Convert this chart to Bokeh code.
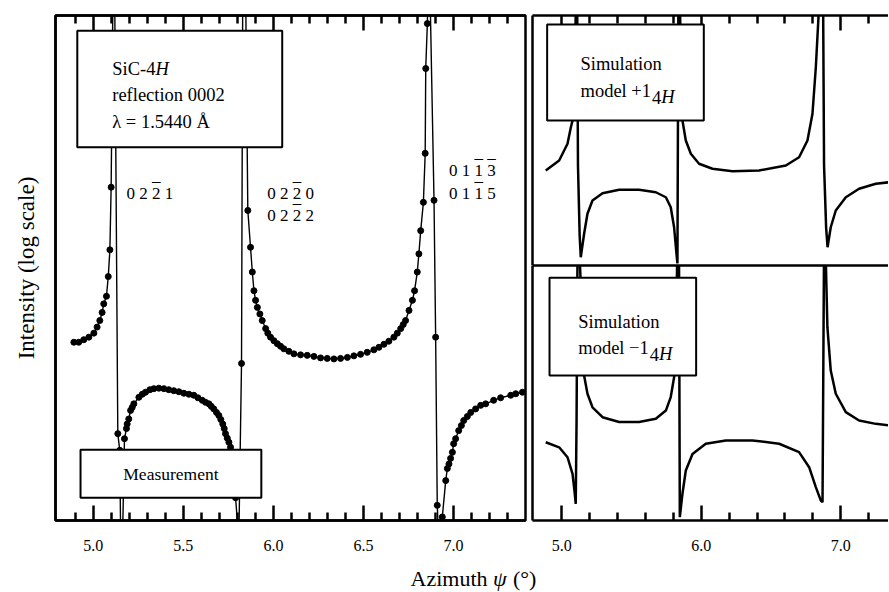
from bokeh.plotting import figure
from bokeh.models import (Range1d, FixedTicker, PrintfTickFormatter, Label,
                          BoxAnnotation, ColumnDataSource, LinearAxis)
from bokeh.layouts import row, column
from bokeh.embed import file_html
from bokeh.resources import INLINE

FONT = "Liberation Serif"

# ---------------- data (azimuth in degrees, intensity on an arbitrary log axis 0..100) ----------
meas_angle = [4.892, 4.919, 4.947, 4.975, 5.003, 5.021, 5.036, 5.049, 5.058, 5.073, 5.083, 5.092,
              5.099, 5.110, 5.118, 5.136, 5.147, 5.152, 5.162,
              5.173, 5.184, 5.188, 5.197, 5.207, 5.216, 5.225, 5.253, 5.272, 5.290, 5.314, 5.336,
              5.364, 5.392, 5.419, 5.447, 5.475, 5.503, 5.531, 5.558, 5.581, 5.605, 5.623, 5.642,
              5.655, 5.669, 5.684, 5.697, 5.708, 5.719, 5.727, 5.734, 5.744, 5.753, 5.762, 5.790,
              5.808, 5.823, 5.830, 5.845,
              5.858, 5.873, 5.883, 5.892, 5.901, 5.911, 5.925, 5.938, 5.957, 5.969, 5.984, 6.003,
              6.022, 6.040, 6.058, 6.086, 6.114, 6.151, 6.188, 6.225, 6.262, 6.299, 6.336, 6.373,
              6.411, 6.447, 6.484, 6.521, 6.558, 6.586, 6.614, 6.641, 6.669, 6.688, 6.707, 6.721,
              6.734, 6.753, 6.772, 6.784, 6.799, 6.808, 6.818, 6.833, 6.843, 6.846, 6.855, 6.860,
              6.868, 6.892, 6.901, 6.910, 6.918,
              6.938, 6.957, 6.966, 6.975, 6.984, 6.994, 7.001, 7.012, 7.029, 7.044, 7.057, 7.077,
              7.096, 7.123, 7.151, 7.179, 7.223, 7.262, 7.318, 7.346, 7.383]
meas_logI = [35.3, 35.3, 35.8, 36.3, 37.1, 38.3, 39.6, 41.2, 42.9, 44.4, 48.3, 53.6,
             66.0, 108, 108, 17.2, 13.9, -4, -4,
             16.2, 18.2, 19.1, 20.1, 21.8, 22.4, 23.1, 24.4, 25.0, 25.4, 25.9, 26.1,
             26.2, 26.1, 25.9, 25.7, 25.5, 25.2, 25.0, 24.8, 24.3, 23.8, 23.4, 23.1,
             22.6, 22.1, 21.4, 20.8, 20.0, 19.1, 18.2, 17.2, 16.3, 15.5, 14.5, 4.5,
             -4, 31.1, 108, 108,
             61.4, 54.1, 49.2, 45.5, 43.6, 42.2, 40.9, 39.6, 38.0, 37.1, 36.3, 35.6,
             35.0, 34.5, 34.0, 33.5, 33.0, 32.8, 32.7, 32.5, 32.2, 32.1, 32.0, 32.1,
             32.3, 32.6, 32.9, 33.3, 33.8, 34.3, 34.9, 35.5, 36.3, 37.1, 38.0, 38.8,
             39.6, 41.6, 43.6, 45.5, 49.2, 52.8, 57.4, 63.0, 72.7, 89.5, 98.4, 108,
             108, 63.4, 36.3, 3.0, -4,
             0.7, 7.9, 10.3, 11.2, 12.3, 13.5, 15.2, 16.2, 17.8, 18.8, 19.8, 20.6,
             21.4, 22.1, 22.8, 23.1, 23.8, 24.3, 24.8, 25.1, 25.4]

plus_angle = [4.885, 4.981, 5.041, 5.065, 5.077, 5.092, 5.102, 5.110, 5.116, 5.128, 5.136,
              5.160, 5.184, 5.220, 5.292, 5.411, 5.554, 5.674, 5.746, 5.781, 5.805, 5.822, 5.829,
              5.836, 5.846, 5.858, 5.865, 5.889, 5.925, 5.984, 6.080, 6.224, 6.414, 6.606, 6.701,
              6.761, 6.797, 6.821, 6.840, 6.850, 6.873, 6.880, 6.895, 6.905, 6.928, 6.964, 7.036,
              7.131, 7.251, 7.346]
plus_logI = [38.0, 42.0, 48.7, 55.3, 58.0, 75.0, 108, 108, 40.0, 12.0, 3.3,
             12.7, 20.7, 26.0, 28.9, 30.3, 30.3, 29.3, 27.3, 23.3, 15.3, 4.7, 0.8,
             108, 108, 66.0, 58.0, 50.0, 44.7, 40.7, 38.7, 37.7, 38.0, 40.0, 43.3,
             50.0, 60.7, 79.3, 99.3, 108, 108, 40.0, 15.0, 7.3, 15.3, 22.0, 27.3,
             30.7, 32.7, 33.3]

minus_angle = [4.885, 4.981, 5.041, 5.077, 5.092, 5.100, 5.106, 5.113, 5.125, 5.148, 5.160,
               5.184, 5.220, 5.292, 5.411, 5.554, 5.674, 5.746, 5.781, 5.805, 5.820, 5.829,
               5.840, 5.846, 5.865, 5.889, 5.937, 6.032, 6.176, 6.367, 6.558, 6.701, 6.773,
               6.821, 6.857, 6.869, 6.880, 6.890, 6.904, 6.928, 6.964, 7.036, 7.131, 7.251, 7.346]
minus_logI = [30.7, 28.7, 24.8, 18.3, 11.0, 6.5, 40.0, 108, 108, 75.0, 56.9,
              49.7, 44.4, 40.5, 38.6, 38.6, 39.9, 43.1, 48.4, 56.2, 80.0, 108,
              108, 1.3, 10.5, 19.6, 26.1, 30.1, 31.4, 31.4, 30.1, 26.8, 20.9,
              13.1, 7.8, 7.2, 108, 108, 75.8, 58.8, 49.7, 42.5, 39.2, 37.9, 37.3]

left_major = [5.0, 5.5, 6.0, 6.5, 7.0]
left_minor = [4.9, 5.1, 5.2, 5.3, 5.4, 5.6, 5.7, 5.8, 5.9, 6.1, 6.2, 6.3, 6.4,
              6.6, 6.7, 6.8, 6.9, 7.1, 7.2, 7.3]
right_major = [5.0, 6.0, 7.0]
right_minor = [5.2, 5.4, 5.6, 5.8, 6.2, 6.4, 6.6, 6.8, 7.2]

# reflection indices (digit, overbar?)
refl_0221 = [("0", False), ("2", False), ("2", True), ("1", False)]
refl_0220 = [("0", False), ("2", False), ("2", True), ("0", False)]
refl_0222 = [("0", False), ("2", False), ("2", True), ("2", False)]
refl_0113 = [("0", False), ("1", False), ("1", True), ("3", True)]
refl_0115 = [("0", False), ("1", False), ("1", True), ("5", False)]

# ---------------- helpers ----------------
LW = 2.5


def tick_axis(ax, major, minor, labels):
    ax.ticker = FixedTicker(ticks=major, minor_ticks=minor)
    ax.axis_line_width = LW
    ax.axis_line_color = "black"
    ax.major_tick_in = 15
    ax.major_tick_out = 0
    ax.minor_tick_in = 8
    ax.minor_tick_out = 0
    ax.major_tick_line_width = LW
    ax.minor_tick_line_width = LW
    ax.major_tick_line_color = "black"
    ax.minor_tick_line_color = "black"
    ax.formatter = PrintfTickFormatter(format="%.1f")
    ax.major_label_text_font = FONT
    if labels:
        ax.major_label_text_font_size = "16px"
        ax.major_label_text_color = "black"
        ax.major_label_standoff = 19
    else:
        ax.major_label_text_font_size = "10px"
        ax.major_label_text_color = None
        ax.major_label_standoff = 0


def line_axis(ax):
    ax.ticker = FixedTicker(ticks=[])
    ax.axis_line_width = LW
    ax.axis_line_color = "black"
    ax.major_tick_line_color = None
    ax.minor_tick_line_color = None
    ax.major_label_text_font_size = "10px"
    ax.major_label_text_color = None
    ax.major_label_standoff = 0


def make_fig(w, h, xr, mb):
    p = figure(width=w, height=h, x_range=Range1d(*xr), y_range=Range1d(0, 100),
               output_backend="svg", toolbar_location=None,
               min_border_left=mb[0], min_border_right=mb[1],
               min_border_top=mb[2], min_border_bottom=mb[3])
    p.xgrid.grid_line_color = None
    p.ygrid.grid_line_color = None
    p.background_fill_color = "white"
    p.border_fill_color = "white"
    return p


def box(p, l, r, b, t):
    p.add_layout(BoxAnnotation(left=l, right=r, bottom=b, top=t, fill_color="white",
                               fill_alpha=1.0, line_color="black", line_width=2,
                               line_alpha=1.0))


def txt(p, x, y, s, size="18.5px", style="normal", xoff=0, align="left", base="alphabetic"):
    p.add_layout(Label(x=x, y=y, text=s, x_offset=xoff, text_font=FONT, text_font_size=size,
                       text_font_style=style, text_color="black", text_align=align,
                       text_baseline=base))


def indices(p, x, y, digits, fs=17, bar_dy=3.5):
    """Miller indices written as spaced digits; barred digits get an overline."""
    txt(p, x, y, " ".join(d for d, _ in digits), size=f"{fs}px")
    for i, (d, barred) in enumerate(digits):
        if barred:
            txt(p, x, y + bar_dy, "_", size=f"{fs}px", xoff=i * 0.75 * fs)


# ---------------- left panel: measurement ----------------
pl = make_fig(528, 560, (4.79, 7.40), (55, 3, 15, 40))
pl.outline_line_color = "black"
pl.outline_line_width = LW
tick_axis(pl.xaxis[0], left_major, left_minor, True)
top_l = LinearAxis()
tick_axis(top_l, left_major, left_minor, False)
pl.add_layout(top_l, "above")
line_axis(pl.yaxis[0])
pl.yaxis[0].axis_label = "Intensity (log scale)"
pl.yaxis[0].axis_label_text_font = FONT
pl.yaxis[0].axis_label_text_font_size = "23px"
pl.yaxis[0].axis_label_text_font_style = "normal"
pl.yaxis[0].axis_label_text_color = "black"
pl.yaxis[0].axis_label_standoff = 17

msrc = ColumnDataSource(dict(x=meas_angle, y=meas_logI))
pl.line("x", "y", source=msrc, line_color="black", line_width=1.4)
pl.scatter("x", "y", source=msrc, size=6, fill_color="black", line_color="black")

box(pl, 4.911, 6.049, 73.9, 97.0)
txt(pl, 5.105, 89.5, "SiC-4")
txt(pl, 5.105, 89.5, "H", style="italic", xoff=43.2)
txt(pl, 5.105, 84.2, "reflection 0002")
txt(pl, 5.105, 78.9, "λ = 1.5440 Å")

box(pl, 4.929, 5.933, 4.5, 14.0)
txt(pl, 5.431, 9.25, "Measurement", size="17.5px", align="center", base="middle")

indices(pl, 5.184, 64.8, refl_0221)
indices(pl, 5.966, 64.8, refl_0220)
indices(pl, 5.966, 60.4, refl_0222)
indices(pl, 6.975, 69.3, refl_0113)
indices(pl, 6.975, 64.8, refl_0115)

# ---------------- right panels: simulations ----------------
xr_right = (4.79, 4.79 + 356 / 139.5)

pt = make_fig(360, 265, xr_right, (4, 0, 15, 0))
pt.outline_line_color = None
line_axis(pt.xaxis[0])
line_axis(pt.yaxis[0])
top_r = LinearAxis()
tick_axis(top_r, right_major, right_minor, False)
pt.add_layout(top_r, "above")
pt.line(plus_angle, plus_logI, line_color="black", line_width=2.5)
box(pt, 4.895, 6.018, 58.0, 96.4)
txt(pt, 5.134, 80.7, "Simulation")
txt(pt, 5.134, 70.0, "model +1")
txt(pt, 5.134, 67.3, "4", xoff=71.5)
txt(pt, 5.134, 67.3, "H", style="italic", xoff=80.8)

pb = make_fig(360, 295, xr_right, (4, 0, 0, 40))
pb.outline_line_color = None
tick_axis(pb.xaxis[0], right_major, right_minor, True)
line_axis(pb.yaxis[0])
top_b = LinearAxis()
line_axis(top_b)
pb.add_layout(top_b, "above")
pb.line(minus_angle, minus_logI, line_color="black", line_width=2.5)
box(pb, 4.912, 5.963, 56.9, 95.2)
txt(pb, 5.118, 78.0, "Simulation")
txt(pb, 5.118, 67.7, "model \u22121")
txt(pb, 5.118, 65.1, "4", xoff=71.5)
txt(pb, 5.118, 65.1, "H", style="italic", xoff=80.8)

# ---------------- shared x-axis title ----------------
strip = figure(width=888, height=31, x_range=Range1d(0, 888), y_range=Range1d(0, 31),
               output_backend="svg", toolbar_location=None, x_axis_location=None,
               y_axis_location=None, min_border=0)
strip.outline_line_color = None
strip.xgrid.grid_line_color = None
strip.ygrid.grid_line_color = None
xs = 410
txt(strip, xs, 13, "Azimuth", size="22px", base="middle")
txt(strip, xs, 13, "ψ", size="22px", style="italic", base="middle", xoff=82.5)
txt(strip, xs, 13, "(°)", size="22px", base="middle", xoff=102.5)

layout = column(row(pl, column(pt, pb)), strip)
open("out.html", "w").write(file_html(layout, INLINE))
